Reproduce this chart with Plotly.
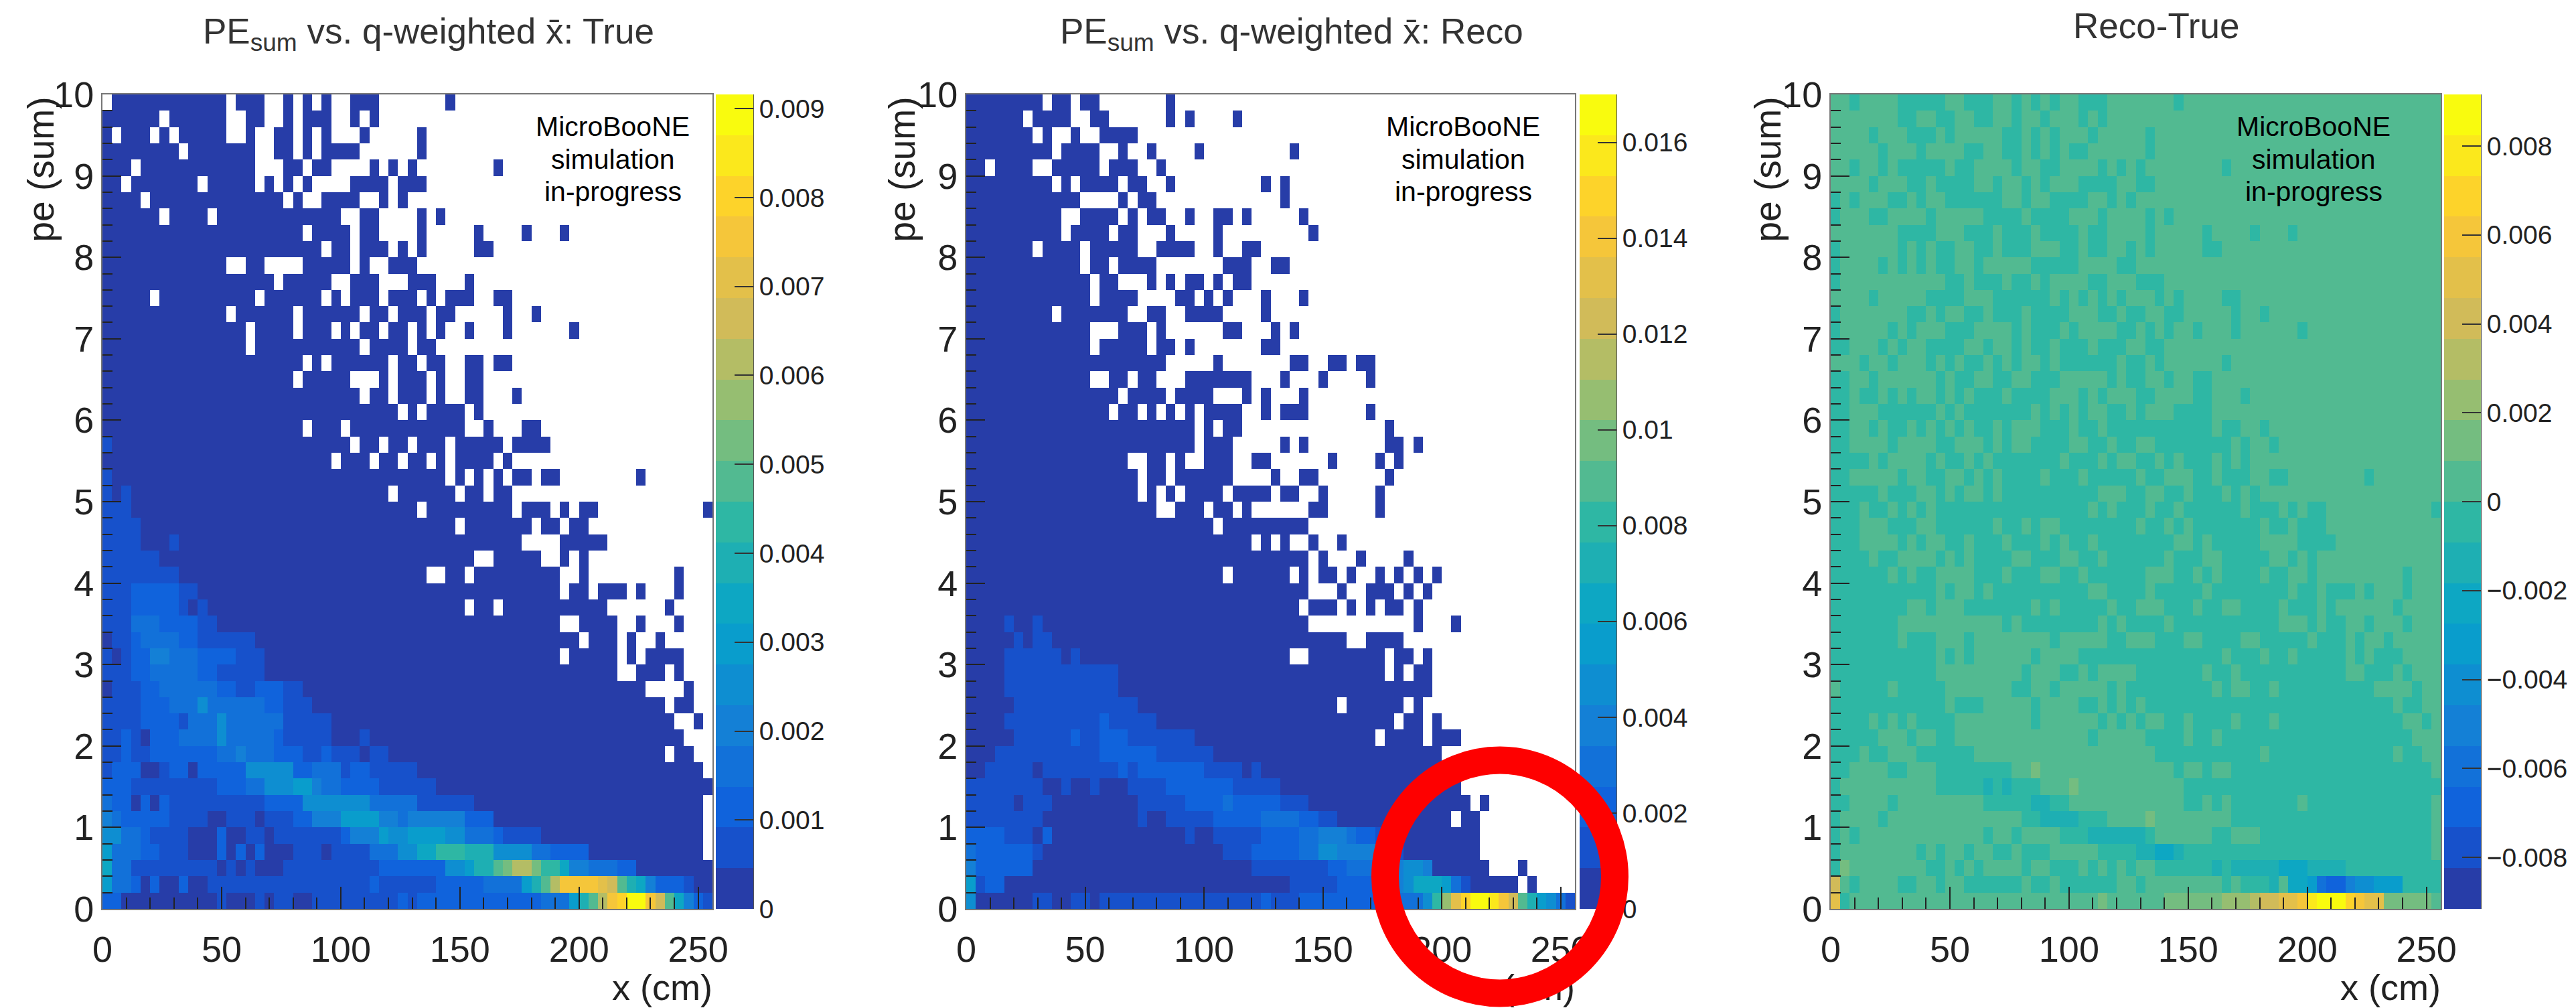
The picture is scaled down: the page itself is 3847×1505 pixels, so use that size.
import plotly.graph_objects as go

W, H = 3847, 1505

# Each row: 64 cells (4 cm bins), top row is pe 9.8-10, bottom row pe 0-0.2.
# '.' = empty cell, otherwise the contour band (0-9, a-j = 10-19).
TRUE_ROWS = [
".0000000 00000.00 0..0.0.0 ..000... ....0... ........ ........ ........",
"000000.0 00000..0 0..0.000 ..0.0... ........ ........ ........ ........",
"0.000.0. 00000..0 ..00.0.0 ...0.... .0...... ........ ........ ........",
"00000000 .0000000 ..00.0.0 000..... .0...... ........ ........ ........",
"000.0000 00000000 ...00.00 ....0.0. 0....... .0...... ........ ........",
"00.00000 00.00000 .0.0.0.. ..0000.0 00...... ........ ........ ........",
"0000.000 00000000 000.0..0 000..0.0 ........ ........ ........ ........",
"000000.0 000.0000 00000000 0..00... .0.0.... ........ ........ ........",
"00000000 00000000 00000.00 00.00... .0.....0 ....0... 0....... ........",
"00000000 00000000 0000000. 00.000.0 .0.....0 0....... ........ ........",
"00000000 00000..0 0....000 00.0..00 0....... ........ ........ ........",
"00000000 00000000 00.00000 ..000... 000...0. ........ ........ ........",
"00000.00 00000000 .000000. 0.000.00 0.0.000. .00..... ........ ........",
"00000000 00000.00 0000.000 000.00.0 00.00... ..0..0.. ........ ........",
"00000000 0000000. 0000.000 .0.00.00 .0.0..0. ..0..... .0...... ........",
"00000000 0000000. 00000000 000.0000 .00..... ........ ........ ........",
"00000000 00000000 00000.0. 000000.0 0.00..00 .00..... ........ ........",
"00000000 00000000 0000.000 00...0.0 00.0..00 ........ ........ ........",
"00000000 00000000 00000000 000.00.0 00.0..00 ...0.... ........ ........",
"00000000 00000000 00000000 0000000. 0.0000.0 ........ ........ ........",
"00000000 00000000 00000.00 0.000000 000000.. 0...00.. ........ ........",
"10000000 00000000 00000000 00.00.00 .000.000 00.0000. ........ ........",
"00000000 00000000 00000000 .000.00. 00.0.000 0.0..... ........ ........",
"10000000 00000000 00000000 00000000 0000.0.0 .0.00.00 ........ 0.......",
"10100000 00000000 00000000 000000.0 00000.00 .00..... ........ ........",
"11100000 00000000 00000000 00000000 0.000000 000.000. 0.00.... .......0",
"11110000 00000000 00000000 00000000 00000.00 00000.00 .00..... ........",
"11110001 00000000 00000000 00000000 00000000 0000.... 00000... ........",
"11111100 00000000 00000000 00000000 0000000. .00000.. 0.0..... ........",
"11111111 00000000 00000000 00000000 00..00.0 00000000 ..0..... ....0...",
"11122222 11000000 00000000 00000000 00000000 00000000 .00.000. 0...0...",
"11122222 10100000 00000000 00000000 000000.0 0.000000 00000... ...0....",
"11133322 22110000 00000000 00000000 00000000 00000000 ..0000.. 0...0...",
"01123333 22111111 00000000 00000000 00000000 00000000 00.000.0 ..0.....",
"10122443 33222211 10000000 00000000 00000000 00000000 .00000.0 .0000...",
"11122333 33221111 10000000 00000000 00000000 00000000 000000.. 000.0...",
"01112233 33332211 22211000 00000000 00000000 00000000 00000000 0....0..",
"11112223 33533333 32211100 00000000 00000000 00000000 00000000 000.00..",
"11112222 13335333 33311111 00000000 00000000 00000000 00000000 0000..0.",
"11210222 33335333 33211111 00010000 00000000 00000000 00000000 00000...",
"11211222 22223343 33222112 11101100 00000000 00000000 00000000 000.00..",
"12220012 20222225 55552233 31221111 10000000 00000000 00000000 0000000.",
"22211111 11112223 35556643 32222111 11100000 00000000 00000000 00000000",
"32202021 11111111 12222555 55553333 31111110 00000000 00000000 0000000.",
"43222221 11100111 01112244 46666443 44444422 20000000 00000000 0000000.",
"55332111 10002001 10111111 12444655 66665533 32111100 00000000 0000000.",
"63332211 10002020 20001110 11113335 57799988 85555332 22200000 0000000.",
"73311111 11110101 00011111 11111222 22225568 8abddb99 74433322 00000000",
"63320200 20011111 11111111 11112111 11122222 333368ad ggggfea8 74222100",
"22000000 00001000 10110011 11111112 12222222 22222233 368adghj jgea7421",
]

RECO_ROWS = [
"00000000 .00.00.. .....0.. ........ ........ ........ ........ ........",
"000000.0 000..00. .....0.0 ....0... ........ ........ ........ ........",
"0000000. 0..0..00 00...... ........ ........ ........ ........ ........",
"00000000 0.0000.. 0..0.... 0....... ..0..... ........ ........ ........",
"00.0000. .00000.0 00..0... ........ ........ ........ ........ ........",
"00000000 0.0.0000 .00..0.. .......0 .0...... ........ ........ ........",
"00000000 0000.... 0.00.... ........ .0...... ........ ........ ........",
"00000000 00..0000 .0.00..0 ..00.0.. ...0.... ........ ........ ........",
"00000000 00.0000. 00...0.. ..0..... ....0... ........ ........ ........",
"0000000. 0000.000 00..0000 ..0..00. ........ ........ ........ ........",
"00000000 0000.00. 0000.... ...000.. 00...... ........ ........ ........",
"00000000 00000.00 ...0.0.0 0.0.00.. ........ ........ ........ ........",
"00000000 00000.00 00....00 .0.0...0 ...0.... ........ ........ ........",
"00000000 0.000000 0..00..0 000....0 ........ ........ ........ ........",
"00000000 00000... 000.0... ...00... 0.0..... ........ ........ ........",
"00000000 00000.00 000.00.0 .......0 0....... ........ ........ ........",
"00000000 00000000 00000... ..0..... ..00..00 .00..... ........ ........",
"00000000 00000..0 0.00...0 000000.. .0...0.. ..0..... ........ ........",
"00000000 00000000 .0000.00 00...0.0 ...0.... ........ ........ ........",
"00000000 0000000. 00.0.0.0 .0000..0 .000.... ..0..... ........ ........",
"00000000 00000000 00000000 .0.00... ........ ....0... ........ ........",
"00000000 00000000 00000000 .000.... .0.0.... ....00.0 ........ ........",
"00000000 00000000 0..00.0. .000..00 ......0. ...0.0.. ........ ........",
"00000000 00000000 00.00.00 0000.... 0..00... ....0... ........ ........",
"00000000 00000000 00.0.0.0 000.0000 .00..0.. ...0.... ........ ........",
"00000000 00000000 0000..00 0.00.0.. ....00.. ...0.... ........ ........",
"00000000 00000000 00000000 00.00000 0000.... ........ ........ ........",
"00000000 00000000 00000000 000000.0 .0..0..0 ........ ........ ........",
"00000000 00000000 00000000 00000000 0000.0.. .0....0. ........ ........",
"00000000 00000000 00000000 000.0000 00.0.00. 0..0.0.0 .0...... ........",
"00000000 00000000 00000000 00000000 0000...0 ..000.0. 0....... ........",
"00000000 00000000 00000000 00000000 000.000. 0.0.00.0 ........ ........",
"00001001 00000000 00000000 00000000 0000.... .......0 ...0.... ........",
"00000101 10000000 00000000 00000000 00000000 ..0000.. ........ ........",
"00001111 11010000 00000000 00000000 00..0000 0000.00. 0....... ........",
"00001111 11111111 00000000 00000000 00000000 0000.0.0 0....... ........",
"00001111 11111111 00000000 00000000 00000000 00000000 0....... ........",
"00000111 11111111 11000000 00000000 0000000. 000000.0 ........ ........",
"00001111 11111121 11110000 00000000 00000000 00000.00 .0...... ........",
"00000111 11121122 21111111 00000000 00000000 000.0000 .000.... ........",
"00011111 11111122 22221111 11000000 00000000 00000000 00...... ........",
"00111110 11111111 21222222 21111010 00000000 00000000 0000.... ........",
"11111111 00100100 01111222 22221111 10000000 00000000 0000.... ........",
"11111011 10000000 00111112 22232222 21110000 00000000 00000.0. ........",
"11111111 00000000 00100111 11222223 33322110 00000000 000.00.. ........",
"22221110 20000000 00000001 00111112 22233444 32211000 000000.. ........",
"32222221 00000000 00000000 00011122 22233554 44433100 000000.. ........",
"42222220 00000000 00000000 00000011 11111122 33344455 4000000. ..0.....",
"61220000 00000000 00000000 00000000 00111112 22224457 77631000 00.0....",
"50000001 10011011 11111111 11111112 11122222 22223333 59cfhjji gea86531",
]

DIFF_ROWS = [
"aa9aaaa9 9999aa99 9aa9a9a9 aa999aaa aaaa9aaa aaaaaaaa aaaaaaaa aaaaaaaa",
"aaaaaaa9 9aa99aa9 9aa9aa9a aa9a9aaa aaaaaaaa aaaaaaaa aaaaaaaa aaaaaaaa",
"aaaa9aaa 999a9aaa aa99a9a9 aaa9aaaa a9aaaaaa aaaaaaaa aaaaaaaa aaaaaaaa",
"aaaaa9aa a9aaaa99 aa99a9a9 a99aaaaa a9aaaaaa aaaaaaaa aaaaaaaa aaaaaaaa",
"aa9aa9a9 9999a99a aaa9aa99 aaaa9a9a 9aaaaaaa a9aaaaaa aaaaaaaa aaaaaaaa",
"aaaa9aaa 99a9999a a9aa9a9a aa9999aa 99aaaaaa aaaaaaaa aaaaaaaa aaaaaaaa",
"9a9aaa99 a9aa9999 99aa9aa9 999aa9a9 aaaaaaaa aaaaaaaa aaaaaaaa aaaaaaaa",
"9aaa99aa aa9aaaaa 9999a999 9aaa9aaa a9a9aaaa aaaaaaaa aaaaaaaa aaaaaaaa",
"aaaaaaa9 999aaa99 9a999a99 99a99aaa a9aaaaa9 aaaa9aaa 9aaaaaaa aaaaaaaa",
"9aaaaaa9 a9a99aa9 9a999aaa 99a99aa9 a9aaaaa9 9aaaaaaa aaaaaaaa aaaaaaaa",
"9aaaa9a9 a9a99aa9 aaaaa999 99aaaa99 aaaaaaaa aaaaaaaa aaaaaaaa aaaaaaaa",
"9aaaaaaa aaaa99a9 99a99a9a aaa99aaa 999aaaaa aaaaaaaa aaaaaaaa aaaaaaaa",
"aaaa9aaa aa9999aa a999999a 9a9a9a9a aa9a9aaa a99aaaaa aaaaaaaa aaaaaaaa",
"9aaaaaaa 99a9aa99 a999a999 9aaa99a9 9aa99aaa aa9aa9aa aaaaaaaa aaaaaaaa",
"9aaaaa9a 9aaa999a aaa9a999 a9aaaa99 a9a9aa9a aa9aaaaa a9aaaaaa aaaaaaaa",
"99aaa9a9 aa9999aa 9aa9a99a 999a999a a99aaaaa aaaaaaaa aaaaaaaa aaaaaaaa",
"aaa9aa9a aa9a9a99 a9a9aa9a 999999a9 9a9aaaaa a9aaaaaa aaaaaaaa aaaaaaaa",
"99aa9aaa aaa9a99a a99aa999 aaaaa9a9 9aa9aa99 aaaaaaaa aaaaaaaa aaaaaaaa",
"99a99a9a 9aa9a9a9 99a9999a aa9a9aaa 99aaaa99 aaa9aaaa aaaaaaaa aaaaaaaa",
"99aaa999 999a9a99 99999a9a 9a9aa99a 9aaa9999 aaaaaaaa aaaaaaaa aaaaaaaa",
"99aa9a99 a9a9a9a9 9a9aaa99 9a99a999 99999999 a99aa9aa aaaaaaaa aaaaaaaa",
"99aaaa9a aaa99aaa 9a9aa999 9aa99a99 aa999999 99a9aa9a aaaaaaaa aaaaaaaa",
"9999a9aa aa9a99a9 a9999999 a999a9aa 99a9a999 a9a9aaaa aaaaaaaa aaaaaaaa",
"99aaaaa9 aa99aa9a 9a9999a9 99a99999 a99aaa99 a999aa99 aaaaaaaa 9aaaaaaa",
"99999a99 9aa9a9aa 9a999999 9999aaa9 9aa99a99 9a9a9aaa aaaaaaaa aaaaaaaa",
"999a99a9 a9a99999 99999999 999a9a99 9a99a999 999a999a 9a99aaaa aaaaaaa9",
"999aaa99 9aa99999 9a99a9aa 99999999 a99a9a99 99999a99 a999aaaa aaaaaaaa",
"999aaaa9 a9aa99a9 99a999a9 a99a9999 9999aa9a 99999aaa a9999aaa aaaaaaaa",
"9999a99a aaa9a9a9 999aa999 aa99a999 999a999a a99999aa 9a9aaaaa aaaaaaaa",
"999999a9 a99aaaa9 99a999aa 99a99999 9aaa99a9 a9999a99 aa9aaaaa aaaa9aaa",
"99999999 999a9aa9 a9999999 999aa999 9a99999a 99999999 a99a999a 9aaa9aaa",
"99999999 aa9aaa99 99999a9a 99999a99 aaa999a9 9aa9999a 999a9aaa aaa9aaaa",
"9999999a aaaaaaaa aa9a9999 9999a9a9 999a9999 9999999a aa9a99aa 9aaa9aaa",
"9999999a 999aaa9a aaaaaaa9 aaaaa99a aa999aa9 999aa999 99a999a9 aa9aaaaa",
"99999999 999a9a9a aaaaa9aa aa999999 99999999 9a999a99 a99999a9 a999aaaa",
"99999999 999aaaaa aaaa9aaa 99a9aaaa 9999999a 99a99999 999999aa 999a9aaa",
"a99999a9 9999aaaa aaa99aa9 aaaaa9a9 99999999 a9aa99a9 99999999 9aaaa9aa",
"99999999 9999a999 aaaaa9aa aa99a9a9 a9999999 99999999 99999999 999a99aa",
"9999a9a9 a9999aaa aaaaa9aa aaaa9a9a 9aa99a99 99a999a9 99999999 9999aa9a",
"99999aaa 9aa99aaa aaaaaaaa aaa9aaaa a9999a99 a9999999 99999999 99999aaa",
"999a99aa a999999a aaaaaaaa aaaaaaaa aa999999 99999a99 99999999 999a99aa",
"99aaaa99 aaa99999 999aabaa aaaaaaaa aaaa9aa9 aa999999 99999999 9999999a",
"9aaaaaaa aaa99999 898999aa abaaaaaa aaaaa999 99999999 99999999 99999999",
"99aaaa9a aaaaaaaa 99999889 9aaaaaaa aaaaa99a 9a999999 9a999999 9999999a",
"9aaaa9aa aaaaaaaa aaaa9988 88999aaa abaaaaaa aa999999 99999999 9999999a",
"9a9aaaaa aaaaaaaa 9aa9aaaa 99988888 89aaaaaa 99aaa999 99999999 9999999a",
"9aaaaaaa a9a9aa9a a99a999a aaaa9999 88778999 99999999 99999999 9999999a",
"9baaaaaa aa99a9a9 aaaa9aa9 99a9a9a9 aa999999 89888887 77888899 99999999",
"ea9aaaa9 9aa9aa99 9999a99a 999999aa 9aaaaaaa a9a9998a 77632245 56669999",
"f9aaaaaa aaaaaaaa aaaaaaaa aaaabaaa aaabbbbb bcccdeef fgijjjhg ffbbbbba",
]

ZRANGES = [(0.0, 0.00916), (0.0, 0.0170), (-0.00916, 0.00916)]
CB_TICKS = [
    [0, 0.001, 0.002, 0.003, 0.004, 0.005, 0.006, 0.007, 0.008, 0.009],
    [0, 0.002, 0.004, 0.006, 0.008, 0.01, 0.012, 0.014, 0.016],
    [-0.008, -0.006, -0.004, -0.002, 0, 0.002, 0.004, 0.006, 0.008],
]
CB_LABELS = [
    ["0", "0.001", "0.002", "0.003", "0.004", "0.005", "0.006", "0.007", "0.008", "0.009"],
    ["0", "0.002", "0.004", "0.006", "0.008", "0.01", "0.012", "0.014", "0.016"],
    ["\u22120.008", "\u22120.006", "\u22120.004", "\u22120.002", "0", "0.002", "0.004", "0.006", "0.008"],
]
TITLES = ["PE<sub>sum</sub> vs. q-weighted x\u0304: True",
          "PE<sub>sum</sub> vs. q-weighted x\u0304: Reco",
          "Reco-True"]
NOTE_LINES = ["MicroBooNE", "simulation", "in-progress"]
NOTE_Y = [189, 238, 286]
X_TICKS = [0, 50, 100, 150, 200, 250]
Y_TICKS = [0, 1, 2, 3, 4, 5, 6, 7, 8, 9, 10]

# pixel layout (left, right, colour-bar left, colour-bar right, title x, title y, note x, ylabel x)
PANELS = [
    (153, 1064, 1069, 1125, 640, 51, 915, 60),
    (1443, 2352, 2359, 2414, 1929, 51, 2185, 1346),
    (2734, 3645, 3650, 3705, 3220, 39, 3455, 2639),
]
TOP, BOTTOM = 141, 1357
FONT = "Liberation Sans"
INK = "#222222"

# ROOT kBird palette stops
R = [0.2082, 0.0592, 0.0780, 0.0232, 0.1802, 0.5301, 0.8186, 0.9956, 0.9764]
G = [0.1664, 0.3599, 0.5041, 0.6419, 0.7178, 0.7492, 0.7328, 0.7862, 0.9832]
B = [0.5293, 0.8684, 0.8385, 0.7914, 0.6425, 0.4662, 0.3499, 0.1968, 0.0539]


def bird(t):
    s = t * 8
    i = min(int(s), 7)
    f = s - i
    mix = lambda c: round(255 * (c[i] + (c[i + 1] - c[i]) * f))
    return f"rgb({mix(R)},{mix(G)},{mix(B)})"


BANDS = 20
colors = [bird(min(int((i + 0.99) * 255 / BANDS) / 254, 1)) for i in range(BANDS)]
colorscale = []
for i, c in enumerate(colors):
    colorscale += [[i / BANDS, c], [(i + 1) / BANDS, c]]

CHARS = "0123456789abcdefghij"


def decode(rows, zmin, zmax):
    out = []
    step = (zmax - zmin) / BANDS
    for row in reversed(rows):
        s = row.replace(" ", "")
        assert len(s) == 64, row
        out.append([None if c == "." else zmin + (CHARS.index(c) + 0.5) * step for c in s])
    return out


fig = go.Figure()
layout = dict(
    width=W, height=H, autosize=False,
    margin=dict(l=0, r=0, t=0, b=0, pad=0, autoexpand=False),
    paper_bgcolor="white", plot_bgcolor="rgba(0,0,0,0)", showlegend=False,
    font=dict(family=FONT, color=INK), annotations=[], shapes=[],
)
ydom = [1 - BOTTOM / H, 1 - TOP / H]

for p, (rows, (zmin, zmax), panel) in enumerate(zip([TRUE_ROWS, RECO_ROWS, DIFF_ROWS], ZRANGES, PANELS)):
    left, right, cl, cr, tx, ty, nx, ylx = panel
    main = 2 * p + 1
    cb = 2 * p + 2
    mx, my, bx, by = f"x{main}", f"y{main}", f"x{cb}", f"y{cb}"
    fig.add_trace(go.Heatmap(
        z=decode(rows, zmin, zmax), x0=2, dx=4, y0=0.1, dy=0.2,
        zmin=zmin, zmax=zmax, colorscale=colorscale, showscale=False,
        xaxis=mx, yaxis=my, hoverongaps=False,
    ))
    step = (zmax - zmin) / BANDS
    fig.add_trace(go.Heatmap(
        z=[[zmin + (i + 0.5) * step] for i in range(BANDS)], x=[0],
        y0=zmin + step / 2, dy=step, zmin=zmin, zmax=zmax,
        colorscale=colorscale, showscale=False, xaxis=bx, yaxis=by, hoverinfo="skip",
    ))
    layout[f"xaxis{main}"] = dict(
        domain=[left / W, right / W], range=[0, 256], anchor=my, tickvals=X_TICKS,
        ticks="inside", ticklen=33, tickwidth=2, tickcolor=INK, showgrid=False, zeroline=False,
        minor=dict(dtick=10, ticks="inside", ticklen=17, tickwidth=2, tickcolor=INK, showgrid=False),
        showline=True, linecolor="#777777", linewidth=2, mirror=True,
        tickfont=dict(family=FONT, size=54, color=INK), ticklabelstandoff=12,
    )
    layout[f"yaxis{main}"] = dict(
        domain=ydom, range=[0, 10], anchor=mx, tickvals=Y_TICKS,
        ticks="inside", ticklen=28, tickwidth=2, tickcolor=INK, showgrid=False, zeroline=False,
        minor=dict(dtick=0.2, ticks="inside", ticklen=15, tickwidth=2, tickcolor=INK, showgrid=False),
        showline=True, linecolor="#777777", linewidth=2, mirror=True,
        tickfont=dict(family=FONT, size=54, color=INK),
    )
    layout[f"xaxis{cb}"] = dict(
        domain=[cl / W, cr / W], anchor=by, visible=False, fixedrange=True,
    )
    layout[f"yaxis{cb}"] = dict(
        domain=ydom, range=[zmin, zmax], anchor=bx, side="right",
        tickvals=CB_TICKS[p], ticktext=CB_LABELS[p],
        ticks="inside", ticklen=28, tickwidth=2, tickcolor="#333333", showgrid=False, zeroline=False,
        showline=True, linecolor="#555555", linewidth=1,
        tickfont=dict(family=FONT, size=39, color=INK),
    )
    layout["annotations"] += [
        dict(text=TITLES[p], x=tx / W, y=1 - ty / H, xref="paper", yref="paper", showarrow=False,
             xanchor="center", yanchor="middle", font=dict(family=FONT, size=53, color="#333333")),
        dict(text="pe (sum)", x=ylx / W, y=1 - 143 / H, xref="paper", yref="paper", showarrow=False,
             textangle=-90, xanchor="center", yanchor="top",
             font=dict(family=FONT, size=55, color=INK)),
    ]
    for line, ny in zip(NOTE_LINES, NOTE_Y):
        layout["annotations"].append(dict(
            text=line, x=nx / W, y=1 - ny / H, xref="paper", yref="paper", showarrow=False,
            xanchor="center", yanchor="middle", font=dict(family=FONT, size=41, color="black"),
        ))

# x-axis titles go on a full-page overlay so that the red ring can pass over them
fig.add_trace(go.Scatter(
    x=[p[1] for p in PANELS], y=[1452] * 3, mode="text", text=["x (cm)"] * 3,
    textposition="bottom left", textfont=dict(family=FONT, size=54, color=INK),
    xaxis="x7", yaxis="y7", hoverinfo="skip",
))
layout["xaxis7"] = dict(domain=[0, 1], range=[0, W], anchor="y7", visible=False, fixedrange=True)
layout["yaxis7"] = dict(domain=[0, 1], range=[H, 0], anchor="x7", visible=False, fixedrange=True)

layout["shapes"].append(dict(
    type="circle", xref="paper", yref="paper", layer="above",
    x0=(2240 - 171.5) / W, x1=(2240 + 171.5) / W,
    y0=1 - (1309 + 174) / H, y1=1 - (1309 - 174) / H,
    line=dict(color="#fe0000", width=41), fillcolor="rgba(0,0,0,0)",
))

fig.update_layout(**layout)
fig.write_html("out.html", config={"displayModeBar": False},
               post_script="document.body.style.margin='0';document.documentElement.style.overflow='hidden';")
